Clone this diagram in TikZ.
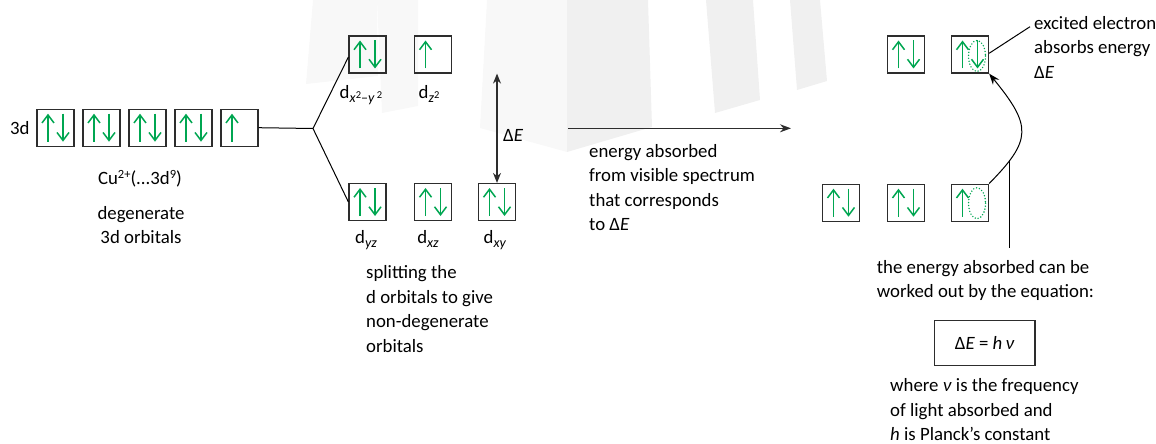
\documentclass[tikz,border=0pt]{standalone}
\usepackage{fontspec}
\setmainfont{Carlito}
\usetikzlibrary{arrows.meta}
\definecolor{eg}{RGB}{0,166,81}
\definecolor{ln}{RGB}{45,45,45}
\definecolor{bgA}{RGB}{248,248,248}
\definecolor{bgB}{RGB}{240,240,240}
\newcommand{\orbup}[1]{\draw[garrow] ([shift={(-7.5pt,-14pt)}]#1.center) -- ([shift={(-7.5pt,14pt)}]#1.center);}
\newcommand{\orbdown}[1]{\draw[garrow] ([shift={(7.5pt,14pt)}]#1.center) -- ([shift={(7.5pt,-14pt)}]#1.center);}
\newcommand{\orbpair}[1]{\orbup{#1}\orbdown{#1}}
\newcommand{\dE}{Δ\textit{E}}
\newcommand{\mysb}[1]{\raisebox{-4pt}{\fontsize{14}{14}\selectfont #1}}
\newcommand{\mysp}[1]{\raisebox{6pt}{\fontsize{12.5}{12.5}\selectfont #1}}
\newcommand{\mysq}[1]{\raisebox{5pt}{\fontsize{10.5}{10.5}\selectfont #1}}
\begin{document}
\begin{tikzpicture}[x=1pt,y=-1pt,
  font=\fontsize{18.8}{24.5}\selectfont,
  every node/.style={text=black},
  orb/.style={draw=ln, line width=1.2pt, minimum size=37pt, inner sep=0pt},
  garrow/.style={draw=eg, line width=1.5pt, -{Straight Barb[length=8pt,width=12pt]}},
  darrow/.style={draw=ln, line width=1.4pt},
  conn/.style={draw=black, line width=1pt},
  txt/.style={inner sep=0pt, align=left, anchor=base west},
  ctxt/.style={inner sep=0pt, align=center, anchor=base},
  dots/.style={draw=eg, line width=1.6pt, line cap=round, dash pattern=on 0pt off 3pt}
]
\useasboundingbox (0,0) rectangle (1156,444);

% faint background shapes
\fill[bgA] (313,0) -- (377,0) -- (378,76) -- (306,84) -- cycle;
\fill[bgA] (377,0) -- (418,0) -- (418,106) -- (382,113) -- cycle;
\fill[bgA] (487,0) -- (567,0) -- (567,152) -- (480,128) -- cycle;
\fill[bgB] (567,0) -- (648,0) -- (652,127) -- (567,152) -- cycle;
\fill[bgB] (706,0) -- (753,0) -- (760,100) -- (715,113) -- cycle;
\fill[bgB] (790,0) -- (820,0) -- (827,81) -- (797,90) -- cycle;

% 3d row
\node[txt] (l3d) at (10,134) {3d};
\foreach \i/\x in {1/55.5,2/101.5,3/147.5,4/193.5,5/239.5}
  \node[orb] (a\i) at (\x,127.7) {};
\foreach \i in {1,2,3,4} {\orbpair{a\i}}
\orbup{a5}
\node[ctxt] (cu) at (140,184) {Cu\mysp{2+}(...3d\mysp{9})};
\node[ctxt] (deg) at (141,243.5) {degenerate\\3d orbitals};

% split orbitals
\node[orb] (t1) at (367.5,54.5) {};
\node[orb] (t2) at (433,54.5) {};
\node[orb] (b1) at (367.5,202) {};
\node[orb] (b2) at (433,202) {};
\node[orb] (b3) at (497,202) {};
\orbpair{t1}\orbup{t2}
\orbpair{b1}\orbpair{b2}\orbpair{b3}
\node[ctxt] (lt1) at (361,99) {d\mysb{\textit{x}\mysq{2}–\textit{y}\,\mysq{2}}};
\node[ctxt] (lt2) at (429,99) {d\mysb{\textit{z}\mysq{2}}};
\node[ctxt] (lb1) at (366,243.5) {d\mysb{\textit{yz}}};
\node[ctxt] (lb2) at (428,243.5) {d\mysb{\textit{xz}}};
\node[ctxt] (lb3) at (495,243.5) {d\mysb{\textit{xy}}};
\node[txt] (split) at (366,352) {splitting the\\d orbitals to give\\non-degenerate\\orbitals};

\coordinate (br) at (313,128.5);
\draw[conn] (a5.east) -- (br);
\draw[conn] (br) -- ([yshift=-2.5pt]t1.west);
\draw[conn] (br) -- (b1.west);

% Delta E arrow
\draw[darrow, {Stealth[length=10pt,width=8pt]}-{Stealth[length=10pt,width=8pt]}] (b3.north |- t1.south) -- (b3.north);
\node[txt] (de) at (503,141.7) {\dE};

% horizontal arrow
\coordinate (hs) at (568,128.3);
\coordinate (he) at (791,128.3);
\draw[darrow, -{Stealth[length=11pt,width=8pt]}] (hs) -- (he);
\node[txt] (abs) at (589,230.5) {energy absorbed\\from visible spectrum\\that corresponds\\to \dE};

% right orbitals
\node[orb] (r1) at (906,54.5) {};
\node[orb] (r2) at (970,54.5) {};
\node[orb] (s1) at (841,202.7) {};
\node[orb] (s2) at (906,202.7) {};
\node[orb] (s3) at (970,202.7) {};
\orbpair{r1}\orbpair{r2}
\orbpair{s1}\orbpair{s2}\orbup{s3}
\draw[dots] ([shift={(7pt,-1.5pt)}]r2.center) ellipse [x radius=8.5, y radius=15.5];
\draw[dots] ([shift={(7pt,-0.5pt)}]s3.center) ellipse [x radius=8.5, y radius=15.5];

\node[txt] (exc) at (1034,78.3) {excited electron\\absorbs energy\\\dE};
\coordinate (ee) at (1030,26.7);
\draw[conn] ([yshift=1.2pt]r2.east) -- (ee);

\draw[conn, -{Stealth[length=11pt,width=8pt]}] (s3.north east) .. controls (1032,140) and (1032,126) .. coordinate[pos=0.2] (jn) (r2.south east);
\coordinate (jb) at (1009.5,248);
\draw[conn] (jn) -- (jn |- jb);

\node[txt] (eqtxt) at (876.7,297.8) {the energy absorbed can be\\worked out by the equation:};
\node[draw=ln, line width=1.2pt, minimum width=100.7pt, minimum height=44.3pt, inner sep=0pt] (eq) at (984.7,343) {\dE{} = \textit{h}\,\textit{ν}};
\node[txt] (where) at (890,440.7) {where \textit{ν} is the frequency\\of light absorbed and\\\textit{h} is Planck’s constant};
\end{tikzpicture}
\end{document}
